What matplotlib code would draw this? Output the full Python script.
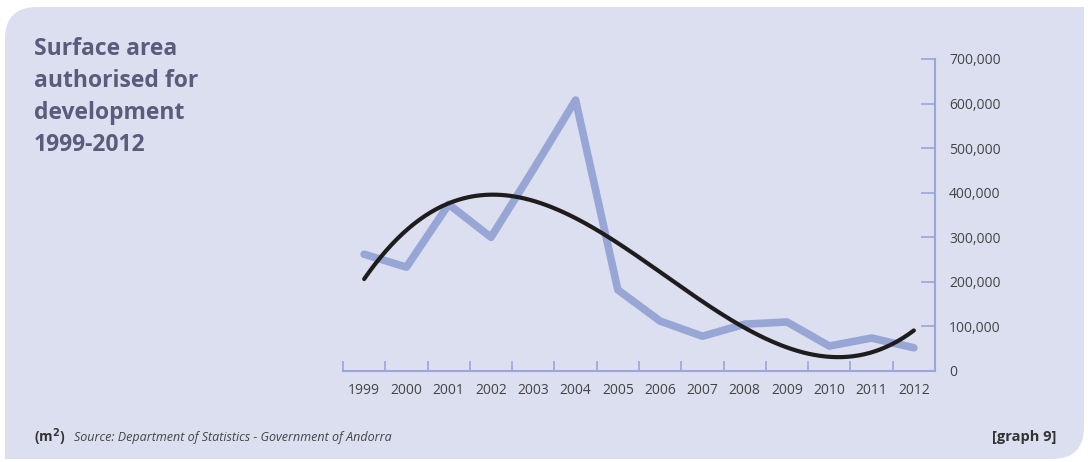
import matplotlib.pyplot as plt
import numpy as np
from matplotlib.patches import PathPatch
from matplotlib.path import Path

years = ['1999', '2000', '2001', '2002', '2003', '2004', '2005',
         '2006', '2007', '2008', '2009', '2010', '2011', '2012']
surface = [262000, 233000, 374000, 300000, 452000, 608000, 182000,
           112000, 78000, 105000, 110000, 56000, 74000, 52000]
y_ticks = [0, 100000, 200000, 300000, 400000, 500000, 600000, 700000]

bg = '#dcdff0'
blue = '#98a6d6'
axis_col = '#9aa6d8'
title_col = '#585d7c'
text_col = '#444444'

W, H = 1088, 462
fig = plt.figure(figsize=(W / 100, H / 100), dpi=100)
fig.patch.set_facecolor('white')

# panel with rounded top-left and bottom-right corners (pixel coords)
bg_ax = fig.add_axes([0, 0, 1, 1])
bg_ax.set_xlim(0, W)
bg_ax.set_ylim(H, 0)
bg_ax.axis('off')
x0, x1, y0, y1, r = 5, 1084, 7, 459, 32
verts = [(x0 + r, y0), (x1, y0), (x1, y1 - r), (x1, y1), (x1 - r, y1),
         (x0, y1), (x0, y0 + r), (x0, y0), (x0 + r, y0), (x0 + r, y0)]
codes = [Path.MOVETO, Path.LINETO, Path.LINETO, Path.CURVE3, Path.CURVE3,
         Path.LINETO, Path.LINETO, Path.CURVE3, Path.CURVE3, Path.CLOSEPOLY]
bg_ax.add_patch(PathPatch(Path(verts, codes), facecolor=bg, edgecolor='none'))

# plotting area
left, right, top, bottom = 343, 935, 59, 371
ax = fig.add_axes([left / W, 1 - bottom / H, (right - left) / W, (bottom - top) / H])
ax.set_facecolor('none')

x = np.arange(len(years))
ax.plot(x, surface, color=blue, lw=5.5, solid_capstyle='round', solid_joinstyle='round')

# third-order polynomial trend
coef = np.polyfit(x, surface, 3)
xs = np.linspace(0, len(years) - 1, 200)
ax.plot(xs, np.polyval(coef, xs), color='#1e1c1c', lw=3, solid_capstyle='round')

ax.set_xlim(-0.5, len(years) - 0.5)
ax.set_ylim(0, 700000)

ax.yaxis.tick_right()
ax.set_yticks(y_ticks)
ax.set_yticklabels([f'{v:,}' for v in y_ticks])
ax.set_xticks(x)
ax.set_xticklabels(years)
ax.set_xticks(np.arange(-0.5, len(years)), minor=True)

ax.tick_params(axis='x', which='major', length=0, pad=9, labelsize=10, labelcolor=text_col)
ax.tick_params(axis='x', which='minor', direction='in', length=7, width=1.2, color=axis_col)
ax.tick_params(axis='y', direction='in', length=10, width=1.2, color=axis_col,
               pad=10, labelsize=10, labelcolor=text_col)

for s in ['left', 'top']:
    ax.spines[s].set_visible(False)
for s in ['bottom', 'right']:
    ax.spines[s].set_color(axis_col)
    ax.spines[s].set_linewidth(1.5)

for lab in ax.get_xticklabels() + ax.get_yticklabels():
    lab.set_family('Open Sans')

fig.text(34 / W, 1 - 37 / H, 'Surface area\nauthorised for\ndevelopment\n1999-2012',
         family='Open Sans', fontweight='bold', fontsize=16.5, color=title_col,
         va='top', ha='left', linespacing=1.45)

fig.text(34 / W, 1 - 437 / H, '(m$^\\mathbf{2}$)', family='Open Sans', fontweight='bold',
         fontsize=10, color='#333333', va='center', ha='left')
fig.text(74 / W, 1 - 437 / H, 'Source: Department of Statistics - Government of Andorra',
         family='Open Sans', style='italic', fontsize=9, color='#444444',
         va='center', ha='left')
fig.text(1056 / W, 1 - 437 / H, '[graph 9]', family='Open Sans', fontweight='bold',
         fontsize=10.5, color='#333333', va='center', ha='right')

fig.savefig('out.png', dpi=100, facecolor='white')
